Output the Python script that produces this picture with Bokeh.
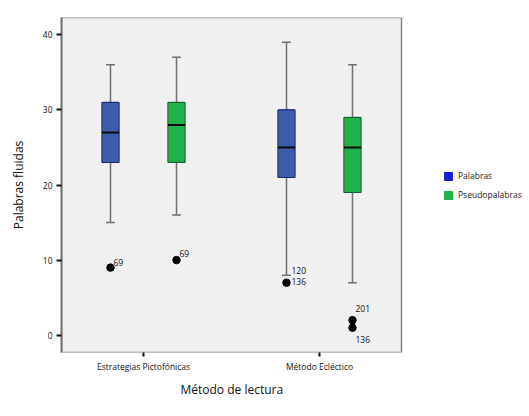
from bokeh.plotting import figure
from bokeh.models import (ColumnDataSource, Legend, LegendItem, FixedTicker, Range1d,
                          BoxAnnotation, Title)
from bokeh.core.properties import value
from bokeh.embed import file_html
from bokeh.resources import INLINE

categories = ["Estrategias Pictofónicas", "Método Ecléctico"]
series = ["Palabras", "Pseudopalabras"]
whisker_low = {"Palabras": [15, 8], "Pseudopalabras": [16, 7]}
q1 = {"Palabras": [23, 21], "Pseudopalabras": [23, 19]}
median = {"Palabras": [27, 25], "Pseudopalabras": [28, 25]}
q3 = {"Palabras": [31, 30], "Pseudopalabras": [31, 29]}
whisker_high = {"Palabras": [36, 39], "Pseudopalabras": [37, 36]}

outlier_series = ["Palabras", "Pseudopalabras", "Palabras", "Pseudopalabras", "Pseudopalabras"]
outlier_category = [0, 0, 1, 1, 1]
outlier_values = [9, 10, 7, 2, 1]

label_series = ["Palabras", "Pseudopalabras", "Palabras", "Palabras", "Pseudopalabras", "Pseudopalabras"]
label_category = [0, 0, 1, 1, 1, 1]
label_values = [9, 10, 8, 7, 2, 1]
label_text = ["69", "69", "120", "136", "201", "136"]
label_dx = [3, 3, 5, 5, 3, 3]
label_dy = [-5, -7, -5, -1, -12, 12]

y_ticks = [0, 10, 20, 30, 40]

fill_colors = {"Palabras": "#3d5cae", "Pseudopalabras": "#22b24c"}
edge_colors = {"Palabras": "#1c2b5e", "Pseudopalabras": "#145a2a"}
legend_colors = {"Palabras": "#1c1cdc", "Pseudopalabras": "#22b24c"}
offsets = {"Palabras": -0.1875, "Pseudopalabras": 0.1875}
FONT = "Open Sans"

X0, X1 = 0.534, 2.466
Y0, Y1 = -2.3, 42.3
# the frame extends into the legend area; the grey box marks the data area
XR = X0 + (X1 - X0) * 468.0 / 340.0

p = figure(width=529, height=412, output_backend="svg", toolbar_location=None,
           x_range=Range1d(X0, XR), y_range=Range1d(Y0, Y1),
           min_border_left=61, min_border_right=0, min_border_top=17, min_border_bottom=60)
p.background_fill_color = "white"
p.border_fill_color = "white"
p.outline_line_color = None
p.xgrid.visible = False
p.ygrid.visible = False

box = BoxAnnotation(left=X0, right=X1, bottom=Y0, top=Y1, fill_color="#f0f0f0", fill_alpha=1,
                    line_color="#858585", line_alpha=1, line_width=1.5, level="underlay")
p.add_layout(box)

cat_x = [i + 1 for i in range(len(categories))]
BW = 0.098
CW = 0.05

legend_items = []
for s in series:
    xs = [c + offsets[s] for c in cat_x]
    src = ColumnDataSource(dict(x=xs, xl=[x - BW / 2 for x in xs], xr=[x + BW / 2 for x in xs],
                                cl=[x - CW / 2 for x in xs], cr=[x + CW / 2 for x in xs],
                                lo=whisker_low[s], q1=q1[s], med=median[s], q3=q3[s], hi=whisker_high[s]))
    p.segment(x0="x", y0="q3", x1="x", y1="hi", source=src, line_color="#707070", line_width=1.5)
    p.segment(x0="x", y0="lo", x1="x", y1="q1", source=src, line_color="#707070", line_width=1.5)
    p.segment(x0="cl", y0="hi", x1="cr", y1="hi", source=src, line_color="#707070", line_width=1.5)
    p.segment(x0="cl", y0="lo", x1="cr", y1="lo", source=src, line_color="#707070", line_width=1.5)
    # legend swatch renderer (hidden behind the box itself)
    lr = p.vbar(x="x", bottom="q1", top="q3", width=BW * 0.9, source=src,
                fill_color=legend_colors[s], line_color=legend_colors[s])
    legend_items.append(LegendItem(label=s, renderers=[lr]))
    p.vbar(x="x", bottom="q1", top="q3", width=BW, source=src,
           fill_color=fill_colors[s], line_color=edge_colors[s], line_width=1)
    p.segment(x0="xl", y0="med", x1="xr", y1="med", source=src, line_color="#0a0a0a", line_width=2)

ox = [cat_x[c] + offsets[s] for s, c in zip(outlier_series, outlier_category)]
p.scatter(x=ox, y=outlier_values, size=7.5, fill_color="black", line_color="black")

lx = [cat_x[c] + offsets[s] for s, c in zip(label_series, label_category)]
lsrc = ColumnDataSource(dict(x=lx, y=label_values, t=label_text, dx=label_dx, dy=label_dy))
p.text(x="x", y="y", text="t", x_offset="dx", y_offset="dy", source=lsrc,
       text_font=value(FONT), text_font_size="8.5px", text_color="#111111",
       text_align="left", text_baseline="middle")

legend = Legend(items=legend_items, location=(382, 152), padding=0, margin=0, spacing=8,
                glyph_width=10, glyph_height=10, label_height=10, label_standoff=5,
                label_text_font=FONT, label_text_font_size="8.5px", label_text_color="#222222",
                border_line_color=None, background_fill_alpha=0)
p.add_layout(legend, "center")

p.xaxis.ticker = FixedTicker(ticks=cat_x)
p.xaxis.major_label_overrides = {c: n for c, n in zip(cat_x, categories)}
p.yaxis.ticker = FixedTicker(ticks=y_ticks)
for ax in (p.xaxis, p.yaxis):
    ax.axis_line_color = None
    ax.minor_tick_line_color = None
    ax.major_tick_in = 0
    ax.major_tick_out = 5
    ax.major_tick_line_width = 2
    ax.major_tick_line_color = "#111111"
    ax.major_label_text_font = FONT
    ax.major_label_text_font_size = "8.5px"
    ax.major_label_text_color = "#111111"
    ax.axis_label_text_font = FONT
    ax.axis_label_text_font_size = "12px"
    ax.axis_label_text_font_style = "normal"
    ax.axis_label_text_color = "#111111"
    ax.major_label_standoff = 4
p.xaxis.major_tick_out = 4
p.yaxis.axis_line_color = "#707070"
p.yaxis.axis_line_width = 2
p.yaxis.axis_label = "Palabras fluidas"
p.yaxis.axis_label_standoff = 13

xtitle = Title(text="Método de lectura", align="left", offset=119, standoff=8,
               text_font=FONT, text_font_size="12px", text_font_style="normal",
               text_color="#111111")
p.add_layout(xtitle, "below")

open("out.html", "w").write(file_html(p, INLINE))
